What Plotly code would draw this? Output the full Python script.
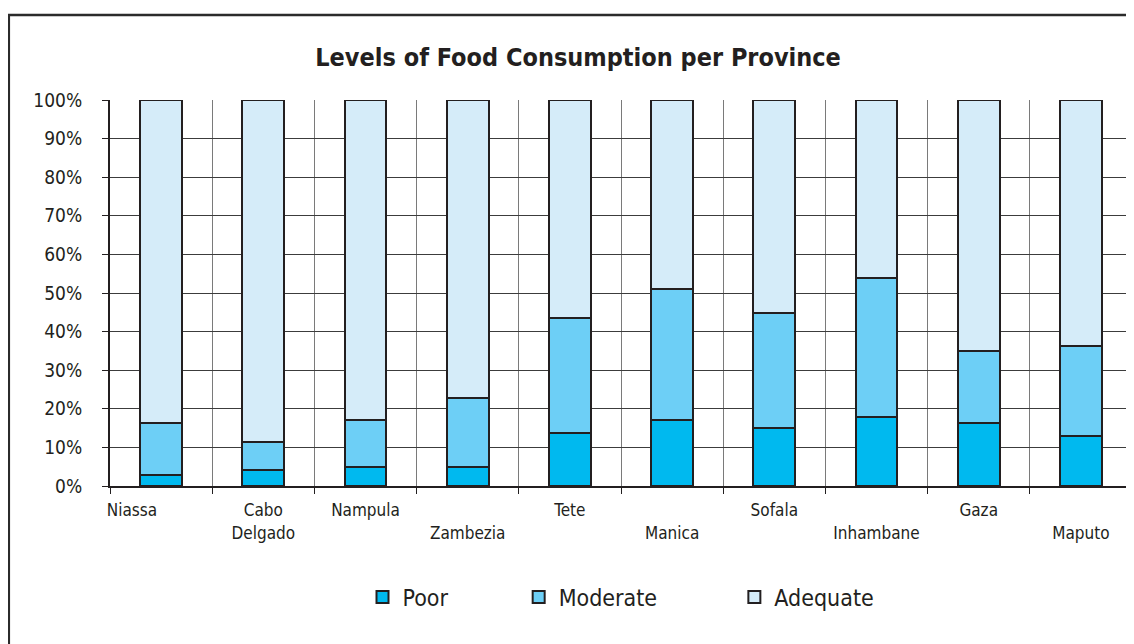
import plotly.graph_objects as go

provinces = ['Niassa', 'Cabo Delgado', 'Nampula', 'Zambezia', 'Tete',
             'Manica', 'Sofala', 'Inhambane', 'Gaza', 'Maputo']
poor = [2.8, 4.2, 4.9, 4.9, 13.8, 17.1, 14.9, 17.9, 16.2, 13.0]
moderate = [13.4, 7.1, 12.3, 18.0, 29.8, 34.0, 29.9, 35.9, 18.7, 23.2]
adequate = [83.8, 88.7, 82.8, 77.1, 56.4, 48.9, 55.2, 46.2, 65.1, 63.8]
tick_labels = ['Niassa' + '&nbsp;' * 12, 'Cabo<br>Delgado', 'Nampula', '&nbsp;<br>Zambezia',
               'Tete', '&nbsp;<br>Manica', 'Sofala', '&nbsp;<br>Inhambane',
               'Gaza', '&nbsp;<br>Maputo']

FONT = 'DejaVu Sans Condensed, Liberation Sans Narrow, Arial Narrow, sans-serif'
EDGE = '#231f20'
COLORS = {'Poor': '#00b9ef', 'Moderate': '#6dcff6', 'Adequate': '#d5ecf9'}

fig = go.Figure()
for name, vals, pad in [('Poor', poor, 10), ('Moderate', moderate, 11), ('Adequate', adequate, 0)]:
    fig.add_trace(go.Bar(
        x=provinces, y=vals, name=name + '&nbsp;' * pad,
        marker=dict(color=COLORS[name], line=dict(color=EDGE, width=2))))

# outer chart frame
fig.add_shape(type='rect', xref='paper', yref='paper',
              x0=-0.099, x1=1.02, y0=-0.6, y1=1.22,
              line=dict(color='#2b2b2b', width=2.5), layer='below')

# page body adds 8px offset, margins below compensate for it
fig.update_layout(
    width=1134, height=644,
    barmode='stack', bargap=0.59,
    plot_bgcolor='white', paper_bgcolor='white',
    font=dict(family=FONT, color='#231f20'),
    title=dict(text='<b>Levels of Food Consumption per Province</b>',
               x=0.458, xref='paper', xanchor='center',
               y=1 - 49 / 644, yref='container', yanchor='middle',
               font=dict(size=25, family=FONT, color='#231f20')),
    xaxis=dict(tickmode='array', tickvals=provinces, ticktext=tick_labels,
               tickson='boundaries', ticks='outside', ticklen=6, tickcolor=EDGE,
               showgrid=True, gridcolor='#7a7a7a', gridwidth=1,
               showline=True, linecolor=EDGE, linewidth=2,
               tickfont=dict(size=17), tickangle=0, range=[-0.5, 9.5],
               ticklabelstandoff=8),
    yaxis=dict(range=[0, 100], dtick=10, ticksuffix='%',
               ticks='outside', ticklen=6, tickcolor=EDGE,
               showgrid=True, gridcolor='#3c3c3c', gridwidth=1,
               showline=True, linecolor=EDGE, linewidth=2,
               zeroline=False, tickfont=dict(size=19), ticklabelstandoff=16),
    legend=dict(orientation='h', x=0.5, xanchor='center', y=-0.2876, yanchor='middle',
                font=dict(size=23, family=FONT), bgcolor='rgba(0,0,0,0)',
                traceorder='normal'),
    margin=dict(l=102, r=10, t=92, b=166),
)

fig.write_html('out.html')
